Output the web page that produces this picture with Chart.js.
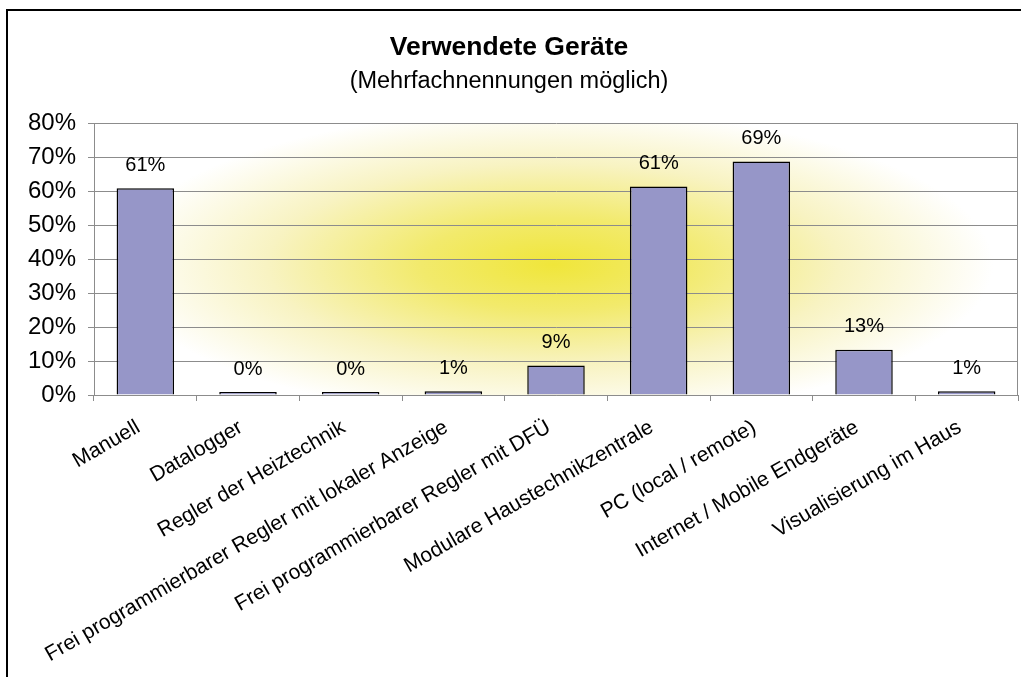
<!DOCTYPE html>
<html>
<head>
<meta charset="utf-8">
<script src="https://cdn.jsdelivr.net/npm/chart.js@4"></script>
<style>
  body { margin: 0; background: #fff; }
  #chart { display: block; }
</style>
</head>
<body>
<canvas id="chart" width="1021" height="677"></canvas>
<script>
const categories = [
  'Manuell',
  'Datalogger',
  'Regler der Heiztechnik',
  'Frei programmierbarer Regler mit lokaler Anzeige',
  'Frei programmierbarer Regler mit DFÜ',
  'Modulare Haustechnikzentrale',
  'PC (local / remote)',
  'Internet / Mobile Endgeräte',
  'Visualisierung im Haus'
];
// shares
const shares = [0.608, 0, 0, 0.011, 0.087, 0.613, 0.687, 0.133, 0.011];
const yTicks = [0, 0.1, 0.2, 0.3, 0.4, 0.5, 0.6, 0.7, 0.8];

const FONT = "'Liberation Sans', Arial, sans-serif";
const pct = v => Math.round(v * 100) + '%';

// white page, yellow glow behind the plot, outer frame
const backdrop = {
  id: 'backdrop',
  beforeDraw(chart) {
    const { ctx, chartArea: a } = chart;
    ctx.save();
    ctx.fillStyle = '#fff';
    ctx.fillRect(0, 0, chart.width, chart.height);

    ctx.beginPath();
    ctx.rect(a.left, a.top, a.right - a.left, a.bottom - a.top);
    ctx.clip();
    const cx = a.left + (a.right - a.left) * 0.497;
    const cy = a.top + (a.bottom - a.top) * 0.52;
    const rx = 440, ry = 155;
    ctx.translate(cx, cy);
    ctx.scale(1, ry / rx);
    const g = ctx.createRadialGradient(0, 0, 0, 0, 0, rx);
    g.addColorStop(0, '#f0e63a');
    g.addColorStop(0.3, '#f2ea6c');
    g.addColorStop(0.65, '#f8f3c2');
    g.addColorStop(1, '#ffffff');
    ctx.fillStyle = g;
    ctx.fillRect(-rx * 2, -rx * 2, rx * 4, rx * 4);
    ctx.restore();

    ctx.save();
    ctx.strokeStyle = '#000';
    ctx.lineWidth = 2;
    ctx.beginPath();
    ctx.moveTo(7, chart.height + 2);
    ctx.lineTo(7, 10);
    ctx.lineTo(chart.width + 2, 10);
    ctx.stroke();
    ctx.restore();
  },
  afterDraw(chart) {
    const { ctx, chartArea: a } = chart;
    ctx.save();
    ctx.strokeStyle = '#8c8c8c';
    ctx.lineWidth = 1;
    ctx.beginPath();
    ctx.moveTo(Math.round(a.right) - 0.5, a.top);
    ctx.lineTo(Math.round(a.right) - 0.5, a.bottom);
    ctx.stroke();
    ctx.restore();
  }
};

const valueLabels = {
  id: 'valueLabels',
  afterDatasetsDraw(chart) {
    const { ctx } = chart;
    const meta = chart.getDatasetMeta(0);
    ctx.save();
    ctx.fillStyle = '#000';
    ctx.font = '20px ' + FONT;
    ctx.textAlign = 'center';
    ctx.textBaseline = 'middle';
    meta.data.forEach((bar, i) => {
      ctx.fillText(pct(shares[i]), bar.x, bar.y - 23);
    });
    ctx.restore();
  }
};

new Chart(document.getElementById('chart'), {
  type: 'bar',
  data: {
    labels: categories,
    datasets: [{
      data: shares,
      backgroundColor: '#9696c8',
      borderColor: '#000',
      borderWidth: 1.5,
      minBarLength: 3,
      categoryPercentage: 1,
      barPercentage: 0.56
    }]
  },
  options: {
    responsive: false,
    animation: false,
    devicePixelRatio: 1,
    layout: { padding: { left: 0, right: 3, top: 0, bottom: 0 } },
    plugins: {
      legend: { display: false },
      tooltip: { enabled: false },
      title: {
        display: true,
        text: 'Verwendete Geräte',
        color: '#000',
        font: { family: FONT, size: 26.5, weight: 'bold' },
        padding: { top: 32, bottom: 3 }
      },
      subtitle: {
        display: true,
        text: '(Mehrfachnennungen möglich)',
        color: '#000',
        font: { family: FONT, size: 23.5 },
        padding: { top: 1, bottom: 27 }
      }
    },
    scales: {
      x: {
        grid: {
          display: true,
          offset: true,
          drawOnChartArea: false,
          drawTicks: true,
          tickLength: 6,
          color: '#8c8c8c'
        },
        border: { display: true, color: '#8c8c8c' },
        ticks: {
          autoSkip: false,
          minRotation: 30,
          maxRotation: 30,
          color: '#000',
          padding: 14,
          labelOffset: -7,
          font: { family: FONT, size: 21 }
        },
        afterFit(scale) { scale.height = 282; }
      },
      y: {
        min: 0,
        max: 0.8,
        afterBuildTicks(scale) { scale.ticks = yTicks.map(v => ({ value: v })); },
        grid: {
          color: '#8c8c8c',
          drawTicks: true,
          tickLength: 6
        },
        border: { display: true, color: '#8c8c8c' },
        ticks: {
          color: '#000',
          padding: 12,
          font: { family: FONT, size: 24 },
          callback: v => pct(v)
        },
        afterFit(scale) { scale.width = 94; }
      }
    }
  },
  plugins: [backdrop, valueLabels]
});
</script>
</body>
</html>
